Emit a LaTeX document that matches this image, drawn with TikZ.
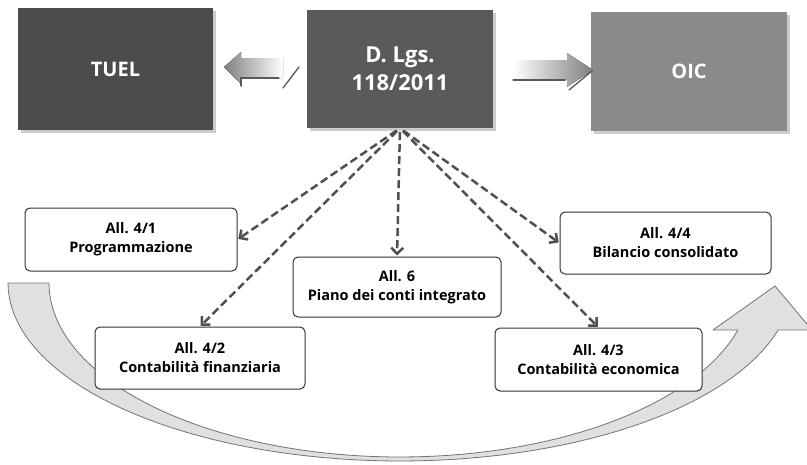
\documentclass[tikz,border=0pt]{standalone}
\usepackage{fontspec}
\setmainfont{Open Sans}
\usetikzlibrary{arrows.meta}
\definecolor{tuelc}{HTML}{4B4B4B}
\definecolor{dlgsc}{HTML}{5A5A5A}
\definecolor{oicc}{HTML}{8A8A8A}
\definecolor{dashc}{HTML}{505050}
\definecolor{bandc}{HTML}{E0E0E0}
\begin{document}
\begin{tikzpicture}[x=1pt,y=-1pt,
  topbox/.style={inner sep=0pt, text=white, font=\bfseries\fontsize{20}{24}\selectfont, align=center},
  shadowbox/.style={fill=black!20},
  allbox/.style={draw=black!80, line width=1pt, rounded corners=5pt, fill=white, align=center,
    inner sep=0pt, font=\bfseries\fontsize{14.5}{19}\selectfont},
  dasharrow/.style={draw=dashc, line width=2.5pt, dash pattern=on 8pt off 4pt,
    -{Straight Barb[length=6pt,width=12pt]}, shorten <=4pt, shorten >=1pt},
  band/.style={fill=bandc, draw=black!55, line width=0.8pt, line join=round},
  blockarrowl/.style={left color=black!50, right color=white, draw=none},
  blockarrowr/.style={left color=white, right color=black!50, draw=none},
  edgeline/.style={draw=black!65, line width=1.3pt, line cap=round}
]
\useasboundingbox (0,0) rectangle (807,464);
\clip (0,0) rectangle (807,464);
\fill[white] (0,0) rectangle (807,464);

% big curved arrow
\path[band] plot[domain=0:164.7,samples=70] ({400-392*cos(\x)},{283+178*sin(\x)})
  -- (812,330) -- (775,286) -- (713,330) -- (738,330)
  -- plot[domain=164.33:0,samples=70] ({400-351*cos(\x)},{283+174*sin(\x)}) -- cycle;

% top boxes with shadows
\fill[shadowbox] (21,11) rectangle (216,133);
\fill[shadowbox] (310,13) rectangle (496,131);
\fill[shadowbox] (594,15) rectangle (790,134);
\node[topbox, fill=tuelc, minimum width=195pt, minimum height=122pt] (tuel) at (115.5,69) {TUEL};
\node[topbox, fill=dlgsc, minimum width=186pt, minimum height=118pt,
  font=\bfseries\fontsize{22}{28}\selectfont] (dlgs) at (400,69) {D. Lgs.\\118/2011};
\node[topbox, fill=oicc, minimum width=196pt, minimum height=119pt] (oic) at (689,71.5) {OIC};

% block arrows between top boxes
\fill[blockarrowl] (224,67) -- (241,52) -- (241,58) -- (283,58) -- (283,78) -- (241,78) -- (241,84) -- cycle;
\draw[edgeline] (241,86) -- (241,78) -- (279,78);
\draw[edgeline] (283,88) -- (299,67);
\fill[blockarrowr] (513,60) -- (567,60) -- (567,53) -- (593,70) -- (567,87) -- (567,80) -- (513,80) -- cycle;
\draw[edgeline] (513,80) -- (565,80);
\draw[edgeline] (569,90) -- (592,71);

% lower boxes
\node[allbox, minimum width=212pt, minimum height=63pt] (a41) at (131,239.5) {All. 4/1\\Programmazione};
\node[allbox, minimum width=208pt, minimum height=60pt] (a6) at (397,287) {All. 6\\Piano dei conti integrato};
\node[allbox, minimum width=210pt, minimum height=62pt] (a42) at (200,358) {All. 4/2\\Contabilità finanziaria};
\node[allbox, minimum width=211pt, minimum height=62pt] (a44) at (665.5,243) {All. 4/4\\Bilancio consolidato};
\node[allbox, minimum width=207pt, minimum height=63pt] (a43) at (598.5,359.5) {All. 4/3\\Contabilità economica};

% dashed connectors
\draw[dasharrow] (dlgs.south) -- (a41.east);
\draw[dasharrow] (dlgs.south) -- (a42.north);
\draw[dasharrow] (dlgs.south) -- (a6.north);
\draw[dasharrow] (dlgs.south) -- (a44.west);
\draw[dasharrow] (dlgs.south) -- (a43.north);
\end{tikzpicture}
\end{document}
